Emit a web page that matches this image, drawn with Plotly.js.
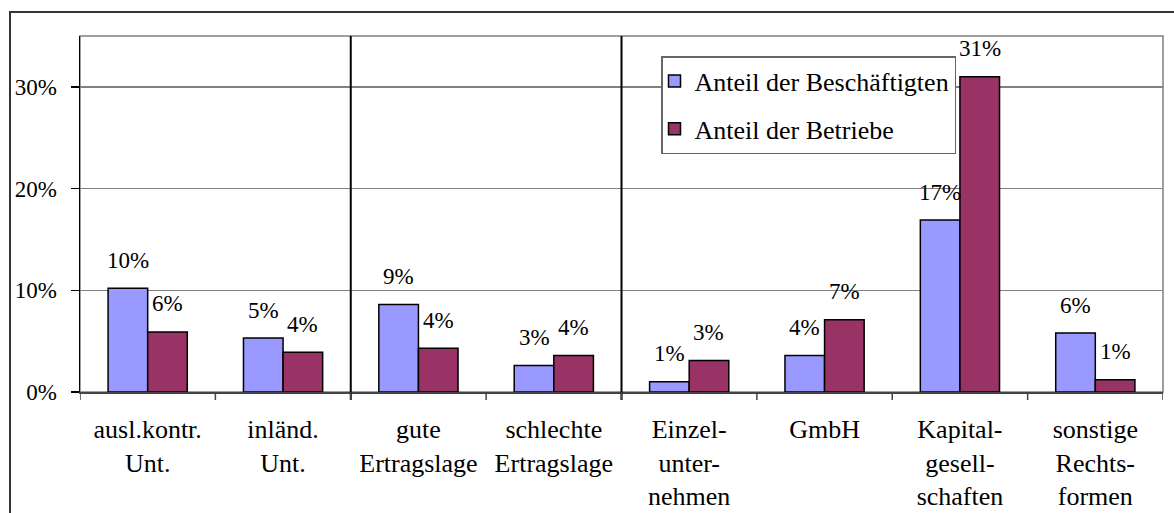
<!DOCTYPE html>
<html>
<head>
<meta charset="utf-8">
<script src="https://cdn.plot.ly/plotly-3.0.1.min.js"></script>
<style>
  html, body { margin: 0; padding: 0; background: #ffffff; }
  #chart { width: 1174px; height: 513px; }
</style>
</head>
<body>
<div id="chart"></div>
<script>
// ---- data ----
const categories = [
  "ausl.kontr.<br>Unt.",
  "inländ.<br>Unt.",
  "gute<br>Ertragslage",
  "schlechte<br>Ertragslage",
  "Einzel-<br>unter-<br>nehmen",
  "GmbH",
  "Kapital-<br>gesell-<br>schaften",
  "sonstige<br>Rechts-<br>formen"
];
const seriesNames = ["Anteil der Beschäftigten", "Anteil der Betriebe"];
const beschaeftigte = [10.2, 5.3, 8.6, 2.6, 1.0, 3.6, 16.9, 5.8];
const betriebe      = [5.9, 3.9, 4.3, 3.6, 3.1, 7.1, 31.0, 1.2];
const labelsBeschaeftigte = ["10%", "5%", "9%", "3%", "1%", "4%", "17%", "6%"];
const labelsBetriebe      = ["6%", "4%", "4%", "4%", "3%", "7%", "31%", "1%"];
const yTicks = [0, 10, 20, 30];
const yTickText = ["0%", "10%", "20%", "30%"];
const separators = [1.5, 3.5];

// ---- layout constants ----
const W = 1174, H = 513;
const M = { l: 80, r: 11, t: 36, b: 121 };
const pw = W - M.l - M.r, ph = H - M.t - M.b;
const FONT = "Liberation Serif";
const xIdx = categories.map((c, i) => i);

const traces = [
  {
    type: "bar", name: seriesNames[0], x: xIdx, y: beschaeftigte,
    marker: { color: "#9999FF", line: { color: "#000000", width: 1.5 } },
    legendgroup: "a", hoverinfo: "skip"
  },
  {
    type: "bar", name: seriesNames[1], x: xIdx, y: betriebe,
    marker: { color: "#993366", line: { color: "#000000", width: 1.5 } },
    legendgroup: "b", hoverinfo: "skip"
  }
];

const bargap = 0.415;
const halfBar = (1 - bargap) / 4;

const annotations = [];
beschaeftigte.forEach((v, i) => annotations.push({
  x: i - halfBar, y: v, xref: "x", yref: "y", text: labelsBeschaeftigte[i],
  showarrow: false, yanchor: "middle", xanchor: "center", yshift: 28,
  font: { family: FONT, size: 23, color: "#000" }
}));
betriebe.forEach((v, i) => annotations.push({
  x: i + halfBar, y: v, xref: "x", yref: "y", text: labelsBetriebe[i],
  showarrow: false, yanchor: "middle", xanchor: "center", yshift: 28,
  font: { family: FONT, size: 23, color: "#000" }
}));

const px = (X) => (X - M.l) / pw;
const py = (Y) => (H - M.b - Y) / ph;

const shapes = [
  { type: "rect", xref: "paper", yref: "paper", x0: 0, x1: 1, y0: 0, y1: 1,
    line: { color: "#808080", width: 1.5 }, layer: "below" },
  { type: "rect", xref: "paper", yref: "paper",
    x0: px(10), x1: px(1176), y0: py(515), y1: py(12),
    line: { color: "#333333", width: 2 }, layer: "above" }
];
separators.forEach(s => shapes.push({
  type: "line", xref: "x", yref: "paper", x0: s, x1: s, y0: -8 / ph, y1: 1,
  line: { color: "#000000", width: 2 }, layer: "above"
}));
[-0.5, 0.5, 1.5, 2.5, 3.5, 4.5, 5.5, 6.5, 7.5].forEach(b => shapes.push({
  type: "line", xref: "x", yref: "paper", x0: b, x1: b, y0: -8 / ph, y1: 0,
  line: { color: "#444444", width: 1.5 }, layer: "above"
}));

const layout = {
  width: W, height: H,
  margin: M,
  paper_bgcolor: "#ffffff", plot_bgcolor: "#ffffff",
  font: { family: FONT, size: 24, color: "#000" },
  barmode: "group", bargap: bargap, bargroupgap: 0,
  showlegend: true,
  legend: {
    x: px(661), y: py(56), xanchor: "left", yanchor: "top",
    bgcolor: "#ffffff", bordercolor: "#666666", borderwidth: 1.5,
    font: { family: FONT, size: 26, color: "#000" },
    traceorder: "grouped", tracegroupgap: 11, indentation: -8
  },
  xaxis: {
    type: "linear", range: [-0.5, 7.5],
    tickmode: "array", tickvals: xIdx, ticktext: categories,
    tickfont: { family: FONT, size: 26, color: "#000" },
    ticks: "", showgrid: false, zeroline: false,
    showline: true, linecolor: "#444444", linewidth: 1.5,
    ticklabelstandoff: 13, fixedrange: true
  },
  yaxis: {
    range: [0, 35], tickmode: "array", tickvals: yTicks, ticktext: yTickText,
    tickfont: { family: FONT, size: 23, color: "#000" },
    ticks: "outside", ticklen: 8, tickcolor: "#000", tickwidth: 1.5,
    showgrid: true, gridcolor: "#808080", gridwidth: 1.5,
    zeroline: false, showline: true, linecolor: "#000000", linewidth: 1.5,
    ticklabelstandoff: 9, fixedrange: true
  },
  annotations: annotations,
  shapes: shapes
};

Plotly.newPlot("chart", traces, layout, { displayModeBar: false, staticPlot: true });
</script>
</body>
</html>
